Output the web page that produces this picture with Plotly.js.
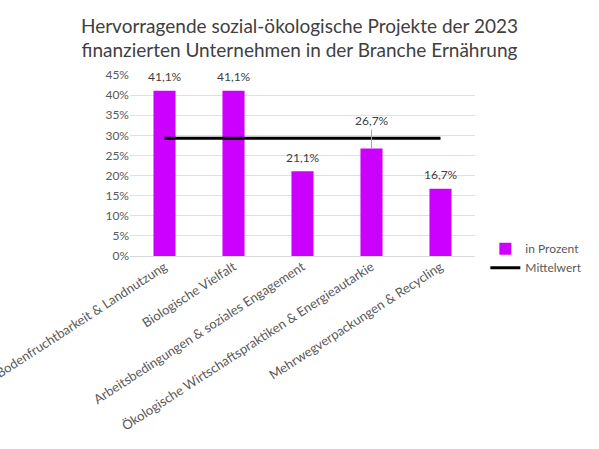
<!DOCTYPE html>
<html>
<head>
<meta charset="utf-8">
<script src="https://cdn.plot.ly/plotly-3.0.1.min.js"></script>
<style>body{margin:0;}#chart{width:599px;height:449px;}</style>
</head>
<body>
<div id="chart"></div>
<script>
// values
var categories = ['Bodenfruchtbarkeit & Landnutzung', 'Biologische Vielfalt', 'Arbeitsbedingungen & soziales Engagement', 'Ökologische Wirtschaftspraktiken & Energieautarkie', 'Mehrwegverpackungen & Recycling'];
var percentValues = [41.1, 41.1, 21.1, 26.7, 16.7];
var meanValues = [29.3, 29.3, 29.3, 29.3, 29.3];
var valueLabels = ['41,1%', '41,1%', '21,1%', '26,7%', '16,7%'];

var font = 'Lato, "Open Sans", sans-serif';

var bars = {
	x: categories,
	y: percentValues,
	name: 'in Prozent',
	type: 'bar',
	marker: {color: '#cc00ff'},
	hoverinfo: 'none'
};
var mean = {
	x: categories,
	y: meanValues,
	name: 'Mittelwert',
	type: 'scatter',
	mode: 'lines',
	line: {color: '#000000', width: 3},
	hoverinfo: 'none'
};

//labels above the bars, the 4th one sits higher with a leader line
var annotations = [];
for (var i = 0; i < categories.length; i++){
	var lifted = (i == 3);
	annotations.push({
		x: categories[i],
		y: percentValues[i],
		text: valueLabels[i],
		showarrow: lifted,
		arrowhead: 0,
		arrowwidth: 1,
		arrowcolor: '#a6a6a6',
		ax: 0,
		ay: -19,
		yshift: lifted ? 0 : 14,
		yanchor: lifted ? 'bottom' : 'middle',
		font: {family: font, size: 12, color: '#404040'}
	});
}

var layout = {
	width: 599,
	height: 449,
	margin: {l: 130, r: 119, t: 75, b: 193},
	title: {
		text: 'Hervorragende sozial-ökologische Projekte der 2023<br>finanzierten Unternehmen in der Branche Ernährung',
		font: {family: font, size: 19, color: '#404040'},
		x: 0.5,
		xanchor: 'center',
		y: 0.927,
		yanchor: 'middle'
	},
	bargap: 0.68,
	xaxis: {
		tickangle: -33,
		tickfont: {family: font, size: 13, color: '#595959'},
		showline: false,
		automargin: false
	},
	yaxis: {
		range: [0, 45],
		dtick: 5,
		ticksuffix: '%',
		tickfont: {family: font, size: 12, color: '#595959'},
		gridcolor: '#e0e0e0',
		zeroline: true,
		zerolinecolor: '#d9d9d9',
		automargin: false
	},
	legend: {
		x: 1.03,
		y: 0.12,
		xanchor: 'left',
		yanchor: 'top',
		font: {family: font, size: 12, color: '#595959'},
		tracegroupgap: 4
	},
	annotations: annotations,
	paper_bgcolor: '#ffffff',
	plot_bgcolor: '#ffffff'
};

Plotly.newPlot('chart', [bars, mean], layout, {displayModeBar: false, staticPlot: true});
</script>
</body>
</html>
